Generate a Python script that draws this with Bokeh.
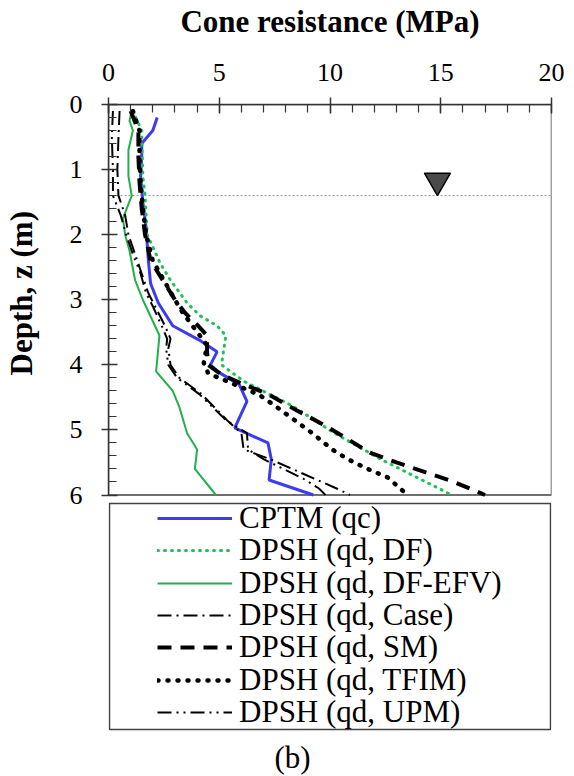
from bokeh.plotting import figure
from bokeh.models import Range1d, LinearAxis, Legend, LegendItem, Label, FixedTicker
from bokeh.embed import file_html
from bokeh.resources import INLINE

# ---------------- data (depth z in m, cone resistance in MPa) ----------------
cptm_z = [0.2, 0.4, 0.6, 0.8, 1.1, 1.5, 1.9, 2.4, 2.75, 3.05, 3.4, 3.62, 3.8, 4.0, 4.12, 4.3, 4.56, 4.97, 5.2, 5.45, 5.77, 6.0]
cptm_q = [2.2, 2.0, 1.5, 1.5, 1.45, 1.55, 1.7, 1.8, 1.9, 2.25, 2.9, 4.1, 4.9, 4.6, 5.0, 5.9, 6.25, 5.7, 7.2, 7.35, 7.25, 9.25]

df_z = [0.1, 0.4, 1.1, 1.4, 2.0, 2.45, 2.7, 3.05, 3.25, 3.4, 3.55, 4.0, 4.25, 4.63, 5.05, 5.46, 6.0]
df_q = [1.1, 1.5, 1.55, 1.65, 1.75, 2.35, 2.8, 3.55, 4.15, 4.9, 5.3, 5.1, 6.1, 8.3, 10.2, 12.35, 15.5]

efv_z = [0.1, 0.25, 0.4, 0.7, 1.1, 1.4, 1.75, 2.0, 2.25, 2.7, 3.0, 3.55, 4.1, 4.4, 4.65, 5.05, 5.3, 5.6, 6.0]
efv_q = [1.05, 0.95, 1.1, 0.9, 0.9, 1.05, 0.65, 0.75, 0.95, 1.2, 1.55, 2.3, 2.15, 2.9, 3.2, 3.55, 4.0, 3.9, 4.85]

case_z = [0.1, 0.5, 1.0, 1.4, 1.7, 2.0, 2.3, 2.6, 2.9, 3.1, 3.4, 3.6, 3.75, 4.0, 4.2, 4.45, 4.85, 5.05, 5.3, 5.45, 5.6, 5.75, 5.9, 6.0]
case_q = [0.5, 0.45, 0.4, 0.45, 0.75, 0.9, 1.2, 1.5, 1.8, 2.1, 2.55, 2.8, 2.7, 2.8, 3.2, 4.2, 5.35, 6.0, 6.1, 7.3, 8.3, 9.3, 10.3, 10.9]

sm_z = [0.1, 0.4, 0.8, 1.2, 1.6, 2.0, 2.4, 2.7, 3.0, 3.2, 3.4, 3.55, 3.8, 4.0, 4.15, 4.3, 4.45, 4.7, 4.9, 5.1, 5.35, 5.5, 5.65, 5.8, 6.0]
sm_q = [1.0, 1.35, 1.35, 1.4, 1.5, 1.65, 1.9, 2.45, 3.0, 3.45, 4.05, 4.45, 4.45, 4.5, 5.1, 6.1, 7.2, 8.5, 9.6, 10.6, 11.8, 13.0, 14.3, 15.6, 17.0]

tfim_z = [0.1, 0.4, 0.8, 1.2, 1.6, 2.0, 2.4, 2.7, 3.0, 3.2, 3.45, 3.7, 3.97, 4.13, 4.26, 4.46, 4.65, 4.85, 5.05, 5.3, 5.45, 5.6, 5.73, 5.85, 6.0]
tfim_q = [1.1, 1.4, 1.4, 1.45, 1.55, 1.7, 2.0, 2.5, 3.0, 3.35, 3.9, 4.45, 4.3, 4.5, 5.4, 6.8, 7.6, 8.4, 9.2, 10.1, 10.8, 11.7, 12.6, 13.0, 13.5]

upm_z = [0.1, 0.5, 1.0, 1.4, 1.7, 2.0, 2.3, 2.6, 2.9, 3.1, 3.4, 3.6, 3.75, 4.0, 4.2, 4.45, 4.85, 5.05, 5.3, 5.45, 5.6, 5.75, 5.9, 6.0]
upm_q = [0.2, 0.15, 0.2, 0.2, 0.55, 0.8, 1.1, 1.45, 1.7, 2.0, 2.4, 2.65, 2.6, 2.7, 3.1, 4.1, 5.3, 6.25, 6.3, 7.0, 7.9, 8.8, 9.5, 9.8]

labels = ["CPTM (qc)", "DPSH (qd, DF)", "DPSH (qd, DF-EFV)", "DPSH (qd, Case)",
          "DPSH (qd, SM)", "DPSH (qd, TFIM)", "DPSH (qd, UPM)"]

water_q = [14.85]
water_z = [1.17]
gwl_depth = 1.4

x_min, x_max = 0, 20
z_min, z_max = 0, 6
x_ticks = [0, 5, 10, 15, 20]
y_ticks = [0, 1, 2, 3, 4, 5, 6]

FONT = "Liberation Serif"

styles = [
    dict(line_color="#3b3bf0", line_width=3),
    dict(line_color="#22c05a", line_width=3, line_dash="1 6", line_cap="round"),
    dict(line_color="#22b04b", line_width=2),
    dict(line_color="black", line_width=2, line_dash="14 5 2 5"),
    dict(line_color="black", line_width=4, line_dash="14 9"),
    dict(line_color="black", line_width=4.5, line_dash="1 9", line_cap="round"),
    dict(line_color="black", line_width=2, line_dash="14 5 2 5 2 5"),
]
series = [(cptm_q, cptm_z), (df_q, df_z), (efv_q, efv_z), (case_q, case_z),
          (sm_q, sm_z), (tfim_q, tfim_z), (upm_q, upm_z)]

# ---------------- layout (pixels) ----------------
W, H = 566, 776
LEFT, RIGHT, TOP = 108, 15, 104
PLOT_BOTTOM = 494.5                # pixel row of depth 6 m
px_per_m = (PLOT_BOTTOM - TOP) / (z_max - z_min)
frame_w = W - LEFT - RIGHT
px_per_mpa = frame_w / (x_max - x_min)
z_bottom_of_frame = (H - TOP) / px_per_m   # frame extends below the chart to hold the legend


def px_to_x(px):
    return x_min + (px - LEFT) / px_per_mpa


def py_to_z(py):
    return z_min + (py - TOP) / px_per_m


p = figure(width=W, height=H, output_backend="svg", toolbar_location=None,
           x_range=Range1d(x_min, x_max), y_range=Range1d(z_bottom_of_frame, z_min),
           x_axis_location=None, y_axis_location=None,
           min_border_left=LEFT, min_border_right=RIGHT, min_border_top=TOP, min_border_bottom=0)
p.grid.visible = False
p.background_fill_color = "white"
p.border_fill_color = "white"
p.outline_line_color = None

# the axis title is centred on the whole (extended) frame; leading no-break spaces
# move the visible words up so that they sit beside the 0-6 m depth scale
y_title_pad = "\u00a0" * 38

axis_color = "#333333"
xa = LinearAxis(axis_label="Cone resistance (MPa)", ticker=FixedTicker(ticks=x_ticks, minor_ticks=list(range(0, 21))))
ya = LinearAxis(axis_label=y_title_pad + "Depth, z (m)", bounds=(z_min, z_max),
                ticker=FixedTicker(ticks=y_ticks, minor_ticks=[round(i * 0.2, 1) for i in range(31)]))
for ax in (xa, ya):
    ax.axis_line_color = axis_color
    ax.axis_line_width = 1.5
    ax.major_tick_line_color = axis_color
    ax.major_tick_line_width = 1.5
    ax.minor_tick_line_color = axis_color
    ax.minor_tick_line_width = 1.2
    ax.major_tick_in = 9
    ax.major_tick_out = 7
    ax.minor_tick_in = 8
    ax.minor_tick_out = 0
    ax.major_label_text_font = FONT
    ax.major_label_text_font_size = "26px"
    ax.major_label_text_line_height = 1.0
    ax.major_label_text_color = "black"
    ax.axis_label_text_font = FONT
    ax.axis_label_text_font_size = "31px"
    ax.axis_label_text_line_height = 1.0
    ax.axis_label_text_font_style = "bold"
    ax.axis_label_text_color = "black"
xa.major_label_standoff = 17
xa.axis_label_standoff = 22
ya.major_label_standoff = 19
ya.axis_label_standoff = 28
p.add_layout(xa, "above")
p.add_layout(ya, "left")

# chart box
p.quad(left=[x_min], right=[x_max], top=[z_min], bottom=[z_max],
       fill_alpha=0, line_color="#404040", line_width=1.5)

# groundwater level
p.line([x_min, x_max], [gwl_depth, gwl_depth], line_color="#909090", line_width=1, line_dash="2 2")
p.scatter(water_q, water_z, marker="inverted_triangle", size=26, fill_color="#4a4a4a",
          line_color="black", line_width=1.5)

renderers = [p.line(q, z, **st) for (q, z), st in zip(series, styles)]

# legend frame (spans the chart width)
p.quad(left=[px_to_x(109)], right=[px_to_x(550)], top=[py_to_z(503)], bottom=[py_to_z(729)],
       fill_color="white", line_color="#404040", line_width=1.5)

row_h = 32.3
first_center = 518.0
item_h = 36
for i, (lab, r) in enumerate(zip(labels, renderers)):
    yc = first_center + i * row_h
    leg = Legend(items=[LegendItem(label=lab, renderers=[r])],
                 location=(157 - LEFT, H - (yc + item_h / 2)),
                 label_text_font=FONT, label_text_font_size="31px", label_text_color="black",
                 glyph_width=75, glyph_height=item_h, label_height=item_h,
                 label_standoff=7, spacing=0, padding=0, margin=0,
                 border_line_color=None, background_fill_alpha=0.0)
    p.add_layout(leg, "center")

p.add_layout(Label(x=px_to_x(292), y=py_to_z(757), text="(b)", text_font=FONT, text_font_size="31px",
                   text_align="center", text_baseline="middle", text_color="black"))

open("out.html", "w").write(file_html(p, INLINE))
